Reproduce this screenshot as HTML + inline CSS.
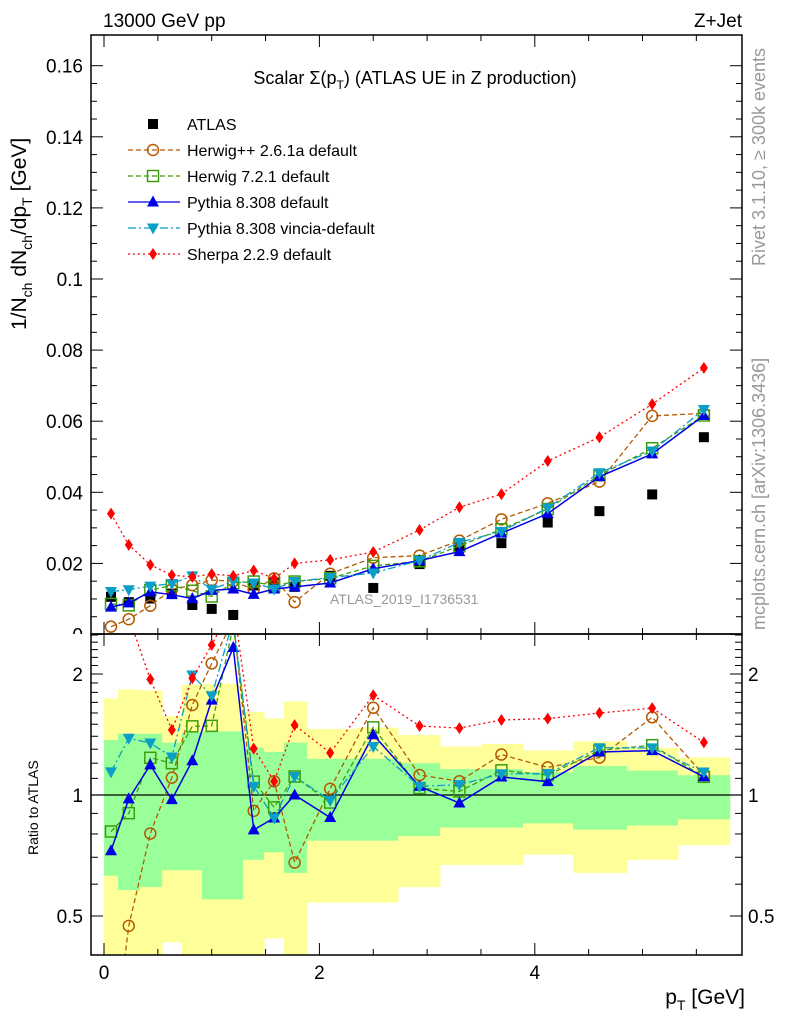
<!DOCTYPE html>
<html><head><meta charset="utf-8"><style>
body{margin:0;background:#fff;}
svg{display:block;font-family:"Liberation Sans",sans-serif;}
</style></head><body>
<svg id="c" width="786" height="1024" viewBox="0 0 786 1024">
<defs>
<clipPath id="mainClip"><rect x="91" y="35" width="651" height="599"/></clipPath>
<clipPath id="ratClip"><rect x="91" y="634" width="651" height="321"/></clipPath>
<clipPath id="topClip"><rect x="0" y="0" width="786" height="634"/></clipPath>
</defs>
<g id="bands" clip-path="url(#ratClip)"></g>
<g id="lines"></g>
<g id="axes"></g>
<text x="103" y="27" font-size="19">13000 GeV pp</text>
<text x="742" y="27" font-size="19" text-anchor="end">Z+Jet</text>
<text x="415" y="84" font-size="18" text-anchor="middle">Scalar Σ(p<tspan font-size="12" dy="5">T</tspan><tspan dy="-5">) (ATLAS UE in Z production)</tspan></text>
<text transform="translate(765,266) rotate(-90)" font-size="18" fill="#999">Rivet 3.1.10, ≥ 300k events</text>
<text transform="translate(765,630) rotate(-90)" font-size="18" fill="#999">mcplots.cern.ch [arXiv:1306.3436]</text>
<text x="330" y="604" font-size="14" fill="#999">ATLAS_2019_I1736531</text>
<text transform="translate(26,330) rotate(-90)" font-size="21">1/N<tspan font-size="14" dy="6">ch</tspan><tspan dy="-6"> dN</tspan><tspan font-size="14" dy="6">ch</tspan><tspan dy="-6">/dp</tspan><tspan font-size="14" dy="6">T</tspan><tspan dy="-6"> [GeV]</tspan></text>
<text transform="translate(38,855) rotate(-90)" font-size="14">Ratio to ATLAS</text>
<text x="745" y="1004" font-size="21" text-anchor="end">p<tspan font-size="14" dy="6">T</tspan><tspan dy="-6"> [GeV]</tspan></text>
<g id="legend"></g>
</svg>
<script>
const xCenters=[0.065,0.23,0.43,0.63,0.82,1.0,1.2,1.39,1.58,1.77,2.1,2.5,2.93,3.3,3.69,4.12,4.6,5.09,5.57];
const binEdges=[0,0.13,0.334,0.54,0.724,0.91,1.096,1.29,1.486,1.67,1.885,2.35,2.73,3.12,3.51,3.89,4.355,4.856,5.33,5.81];
const atlas=[0.0106,0.0091,0.0101,0.0115,0.0083,0.0072,0.0055,0.0138,0.0146,0.0134,0.0165,0.0131,0.0198,0.0244,0.0257,0.0315,0.0347,0.0394,0.0555];
const herwigpp=[0.0022,0.0043,0.0081,0.0127,0.0139,0.0153,0.0150,0.0126,0.0158,0.0091,0.0171,0.0216,0.0222,0.0264,0.0324,0.0369,0.0430,0.0615,0.0622];
const herwig7=[0.0086,0.0082,0.0125,0.0138,0.0123,0.0107,0.0145,0.0149,0.0136,0.0149,0.0158,0.0193,0.0206,0.0249,0.0296,0.0353,0.0448,0.0524,0.0616];
const pythia=[0.0077,0.0089,0.0120,0.0112,0.0101,0.0124,0.0128,0.0113,0.0128,0.0134,0.0145,0.0185,0.0208,0.0233,0.0285,0.0340,0.0444,0.0508,0.0616];
const vincia=[0.0121,0.0126,0.0136,0.0143,0.0165,0.0127,0.0150,0.0145,0.0128,0.0149,0.0160,0.0173,0.0208,0.0259,0.0290,0.0356,0.0455,0.0516,0.0633];
const sherpa=[0.0340,0.0252,0.0196,0.0167,0.0162,0.0170,0.0165,0.0180,0.0158,0.0200,0.0210,0.0232,0.0294,0.0358,0.0395,0.0488,0.0555,0.0648,0.0750];
const bandYellowHi=[1.74,1.83,1.82,1.57,1.88,1.89,1.89,1.61,1.55,1.71,1.46,1.47,1.41,1.32,1.34,1.29,1.36,1.31,1.24];
const bandGreenHi=[1.37,1.42,1.42,1.35,1.43,1.44,1.44,1.31,1.28,1.35,1.23,1.23,1.20,1.16,1.16,1.14,1.18,1.15,1.12];
const bandGreenLo=[0.63,0.58,0.59,0.65,0.65,0.55,0.55,0.69,0.72,0.64,0.77,0.77,0.79,0.83,0.83,0.85,0.82,0.84,0.87];
const bandYellowLo=[0.35,0.35,0.35,0.43,0.35,0.35,0.35,0.35,0.44,0.35,0.54,0.54,0.59,0.67,0.67,0.71,0.64,0.69,0.75];
const mainTicks=[0,0.02,0.04,0.06,0.08,0.1,0.12,0.14,0.16];
const mainTickLabels=["0","0.02","0.04","0.06","0.08","0.1","0.12","0.14","0.16"];
const xTicks=[0,2,4];
const xTickLabels=["0","2","4"];
const ratioTicks=[0.5,1,2];
const ratioTickLabels=["0.5","1","2"];

const NS="http://www.w3.org/2000/svg";
const XL=91,XR=742;
const X=v=>104+v*107.7;
const Y=v=>634.5-v*3555;
const R=v=>795-121*Math.log2(v);
function mk(tag,attrs,parent){const e=document.createElementNS(NS,tag);for(const k in attrs)e.setAttribute(k,attrs[k]);parent.appendChild(e);return e;}
const bands=document.getElementById('bands');
for(let i=0;i<binEdges.length-1;i++){
  const x0=X(binEdges[i]),w=X(binEdges[i+1])-x0;
  const y=mk('rect',{x:x0,y:R(bandYellowHi[i]),width:w+0.5,height:R(bandYellowLo[i])-R(bandYellowHi[i]),fill:'#ffff99'},bands);
  
  
  const g=mk('rect',{x:x0,y:R(bandGreenHi[i]),width:w+0.5,height:R(bandGreenLo[i])-R(bandGreenHi[i]),fill:'#99ff99'},bands);
  
  
}
const series=[
 {name:'herwigpp',vals:herwigpp,color:'#b35a00',dash:'5,3',marker:'circle',label:'Herwig++ 2.6.1a default'},
 {name:'herwig7',vals:herwig7,color:'#3c9e0c',dash:'5,3',marker:'square',label:'Herwig 7.2.1 default'},
 {name:'pythia',vals:pythia,color:'#0000e6',dash:'',marker:'tri-up',label:'Pythia 8.308 default'},
 {name:'vincia',vals:vincia,color:'#0a9ec8',dash:'8,3,2,3',marker:'tri-down',label:'Pythia 8.308 vincia-default'},
 {name:'sherpa',vals:sherpa,color:'#ff0000',dash:'2,3',marker:'diamond',label:'Sherpa 2.2.9 default'}
];
function marker(type,cx,cy,color,parent){
  let e;
  if(type==='circle') e=mk('circle',{cx:cx,cy:cy,r:5.5,fill:'none',stroke:color,'stroke-width':1.5},parent);
  else if(type==='square') e=mk('rect',{x:cx-5.5,y:cy-5.5,width:11,height:11,fill:'none',stroke:color,'stroke-width':1.5},parent);
  else if(type==='tri-up') e=mk('polygon',{points:`${cx},${cy-6.5} ${cx-6},${cy+4.5} ${cx+6},${cy+4.5}`,fill:color},parent);
  else if(type==='tri-down') e=mk('polygon',{points:`${cx},${cy+6.5} ${cx-6},${cy-4.5} ${cx+6},${cy-4.5}`,fill:color},parent);
  else if(type==='diamond') e=mk('polygon',{points:`${cx},${cy-6} ${cx-4},${cy} ${cx},${cy+6} ${cx+4},${cy}`,fill:color},parent);
  else e=mk('rect',{x:cx-5,y:cy-5,width:10,height:10,fill:'#000'},parent);
  return e;
}
const L=document.getElementById('lines');
const gm=mk('g',{'clip-path':'url(#mainClip)'},L);


const gr=mk('g',{'clip-path':'url(#ratClip)'},L);


mk('line',{x1:XL,x2:XR,y1:R(1),y2:R(1),stroke:'#000','stroke-width':1.2},gr);
atlas.forEach((v,i)=>{const m=marker('atlas',X(xCenters[i]),Y(v),'#000',gm);
  
  });
series.forEach(s=>{
  const ptsM=s.vals.map((v,i)=>X(xCenters[i])+','+Y(v)).join(' ');
  const ptsR=s.vals.map((v,i)=>X(xCenters[i])+','+R(v/atlas[i])).join(' ');
  const lm=mk('polyline',{points:ptsM,fill:'none',stroke:s.color,'stroke-width':s.name==='pythia'?1.5:1.3,'stroke-dasharray':s.dash},gm);
  
  
  const lr=mk('polyline',{points:ptsR,fill:'none',stroke:s.color,'stroke-width':s.name==='pythia'?1.5:1.3,'stroke-dasharray':s.dash},gr);
  
  
  s.vals.forEach((v,i)=>{
    const a=marker(s.marker,X(xCenters[i]),Y(v),s.color,gm);
    
    
    const b=marker(s.marker,X(xCenters[i]),R(v/atlas[i]),s.color,gr);
    
    
  });
});
// axes
const A=document.getElementById('axes');
mk('rect',{x:XL,y:35,width:XR-XL,height:599,fill:'none',stroke:'#000','stroke-width':1.5},A);
mk('rect',{x:XL,y:634,width:XR-XL,height:321,fill:'none',stroke:'#000','stroke-width':1.5},A);
for(let v=0;v<=0.165;v+=0.005){const y=Y(v);const maj=Math.abs(v/0.02-Math.round(v/0.02))<1e-6;const len=maj?12:6;
  mk('line',{x1:XL,x2:XL+len,y1:y,y2:y,stroke:'#000'},A);mk('line',{x1:XR,x2:XR-len,y1:y,y2:y,stroke:'#000'},A);}
const topLbl=mk('g',{'clip-path':'url(#topClip)'},A);
mainTicks.forEach((v,i)=>{const t=mk('text',{x:83,y:Y(v)+7,'font-size':19,'text-anchor':'end'},topLbl);t.textContent=mainTickLabels[i];
  
  });
for(let v=0;v<=6;v+=0.5){const x=X(v);if(x>XR)break;const maj=Number.isInteger(v/2);const len=maj?12:6;
  [[35,1],[634,-1],[634,1],[955,-1]].forEach(([y0,d])=>mk('line',{x1:x,x2:x,y1:y0,y2:y0+d*len,stroke:'#000'},A));}
xTicks.forEach((v,i)=>{const t=mk('text',{x:X(v),y:979,'font-size':19,'text-anchor':'middle'},A);t.textContent=xTickLabels[i];
  
  });
for(let v=0.4;v<=2.51;v+=0.1){const y=R(v);if(y<634||y>955)continue;const maj=ratioTicks.some(t=>Math.abs(t-v)<1e-6);const len=maj?12:7;
  mk('line',{x1:XL,x2:XL+len,y1:y,y2:y,stroke:'#000'},A);mk('line',{x1:XR,x2:XR-len,y1:y,y2:y,stroke:'#000'},A);}
ratioTicks.forEach((v,i)=>{
  const t=mk('text',{x:83,y:R(v)+7,'font-size':19,'text-anchor':'end'},A);t.textContent=ratioTickLabels[i];
  
  
  const t2=mk('text',{x:748,y:R(v)+7,'font-size':19},A);t2.textContent=ratioTickLabels[i];
  
  });
// legend
const G=document.getElementById('legend');
const rows=[{label:'ATLAS',marker:'atlas',color:'#000',dash:null}].concat(series);
rows.forEach((s,i)=>{
  const y=124+i*26;
  if(s.dash!==null) {const l=mk('line',{x1:128,x2:180,y1:y,y2:y,stroke:s.color,'stroke-width':1.3,'stroke-dasharray':s.dash},G);
    
    }
  const m=marker(s.marker,153,y,s.color,G);
  
  
  const t=mk('text',{x:187,y:y+6,'font-size':16},G);t.textContent=s.label;
  
  
});
</script>
</body></html>
